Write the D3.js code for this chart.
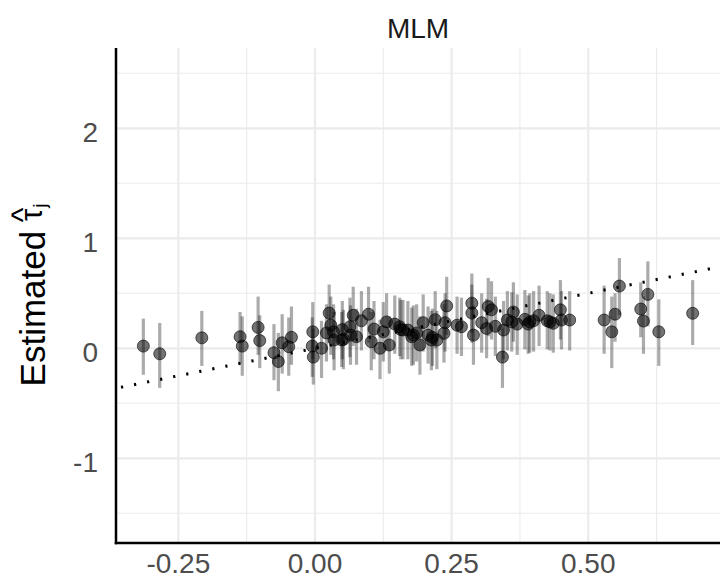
<!DOCTYPE html>
<html>
<head>
<meta charset="utf-8">
<script src="https://cdn.jsdelivr.net/npm/d3@7"></script>
<style>
  html, body { margin: 0; padding: 0; background: #fff; }
  svg { display: block; font-family: "Liberation Sans", Arial, sans-serif; }
</style>
</head>
<body>
<svg id="chart" width="720" height="579"></svg>
<script>
// ---- data ----
const panelTitle = "MLM";
const xTicks = [-0.25, 0.00, 0.25, 0.50];
const xTickLabels = ["-0.25", "0.00", "0.25", "0.50"];
const xMinor = [-0.125, 0.125, 0.375, 0.625];
const yTicks = [-1, 0, 1, 2];
const yTickLabels = ["-1", "0", "1", "2"];
const yMinor = [-1.5, -0.5, 0.5, 1.5, 2.5];

// true effect (x), estimated effect (y), interval lower / upper
const trueTau = [-0.314,-0.284,-0.207,-0.137,-0.133,-0.104,-0.101,-0.075,-0.067,-0.060,-0.048,-0.043,
  -0.004,-0.005,-0.003,0.012,0.026,0.029,0.021,0.034,0.035,0.049,0.052,0.064,0.070,0.065,0.076,0.098,
  0.108,0.103,0.119,0.125,0.131,0.136,0.146,0.155,0.161,0.170,0.177,0.186,0.192,0.198,0.207,0.213,
  0.220,0.223,0.238,0.241,0.236,0.268,0.287,0.287,0.290,0.305,0.314,0.317,0.323,0.343,0.345,0.352,
  0.363,0.360,0.384,0.393,0.410,0.425,0.436,0.449,0.451,0.466,0.529,0.549,0.543,0.557,0.596,0.601,
  0.609,0.629,0.691,0.390,0.400,0.370,0.157,0.180,0.050,0.085,0.215,0.260,0.330,0.430];
const estTau = [0.020,-0.050,0.095,0.105,0.020,0.190,0.070,-0.040,-0.120,0.050,0.015,0.100,
  0.150,0.020,-0.080,0.000,0.320,0.210,0.140,0.150,0.075,0.075,0.080,0.196,0.300,0.120,0.105,0.310,
  0.175,0.060,0.000,0.150,0.240,0.030,0.220,0.196,0.166,0.166,0.105,0.140,0.030,0.233,0.120,0.075,
  0.260,0.075,0.233,0.385,0.136,0.196,0.410,0.320,0.120,0.233,0.180,0.380,0.350,-0.080,0.166,0.257,
  0.330,0.240,0.263,0.240,0.300,0.250,0.227,0.350,0.257,0.257,0.257,0.310,0.150,0.566,0.357,0.248,
  0.490,0.150,0.318,0.220,0.250,0.220,0.170,0.120,0.170,0.250,0.100,0.210,0.200,0.240];
const lowerTau = [-0.24,-0.36,-0.16,-0.14,-0.25,-0.06,-0.18,-0.29,-0.39,-0.23,-0.25,-0.15,
  -0.10,-0.26,-0.33,-0.27,0.05,-0.06,-0.12,-0.10,-0.20,-0.17,-0.19,-0.08,0.02,-0.15,-0.15,0.05,
  -0.10,-0.20,-0.28,-0.12,-0.02,-0.23,-0.05,-0.07,-0.10,-0.10,-0.16,-0.12,-0.24,-0.03,-0.14,-0.20,
  0.00,-0.19,-0.03,0.12,-0.13,-0.07,0.14,0.05,-0.15,-0.04,-0.09,0.11,0.08,-0.36,-0.10,-0.02,
  0.06,-0.03,-0.01,-0.04,0.02,-0.01,-0.04,0.08,-0.01,-0.02,-0.05,0.06,-0.18,0.30,0.10,-0.05,
  0.20,-0.16,0.03,-0.05,-0.03,-0.06,-0.10,-0.15,-0.10,-0.02,-0.16,-0.05,-0.07,-0.02];
const upperTau = [0.27,0.23,0.34,0.33,0.29,0.47,0.30,0.22,0.14,0.31,0.28,0.38,
  0.42,0.28,0.18,0.25,0.58,0.47,0.40,0.40,0.33,0.33,0.35,0.46,0.56,0.39,0.36,0.56,
  0.43,0.33,0.26,0.42,0.50,0.29,0.48,0.46,0.44,0.43,0.37,0.40,0.29,0.49,0.38,0.34,
  0.52,0.34,0.50,0.65,0.40,0.46,0.68,0.58,0.39,0.50,0.45,0.64,0.61,0.18,0.43,0.52,
  0.60,0.51,0.53,0.50,0.57,0.52,0.49,0.62,0.52,0.52,0.57,0.50,0.47,0.82,0.60,0.47,
  0.79,0.445,0.62,0.48,0.52,0.49,0.44,0.39,0.43,0.52,0.36,0.47,0.47,0.50];

// ---- layout ----
const pL = 116, pR = 720, pT = 48, pB = 543;
const svg = d3.select("#chart");

const x = d3.scaleLinear().domain([-0.364, 0.741]).range([pL, pR]);
const y = d3.scaleLinear().domain([-1.77, 2.73]).range([pB, pT]);

const grid = svg.append("g");
grid.selectAll(".xmin").data(xMinor).join("line")
  .attr("x1", d => x(d)).attr("x2", d => x(d)).attr("y1", pT).attr("y2", pB)
  .attr("stroke", "#ebebeb").attr("stroke-width", 1.1);
grid.selectAll(".ymin").data(yMinor).join("line")
  .attr("x1", pL).attr("x2", pR).attr("y1", d => y(d)).attr("y2", d => y(d))
  .attr("stroke", "#ebebeb").attr("stroke-width", 1.1);
grid.selectAll(".xmaj").data(xTicks).join("line")
  .attr("x1", d => x(d)).attr("x2", d => x(d)).attr("y1", pT).attr("y2", pB)
  .attr("stroke", "#ebebeb").attr("stroke-width", 2.2);
grid.selectAll(".ymaj").data(yTicks).join("line")
  .attr("x1", pL).attr("x2", pR).attr("y1", d => y(d)).attr("y2", d => y(d))
  .attr("stroke", "#ebebeb").attr("stroke-width", 2.2);

// 45-degree reference line (y = x)
svg.append("clipPath").attr("id", "clp").append("rect")
  .attr("x", pL).attr("y", pT).attr("width", pR - pL).attr("height", pB - pT);
const refStart = x.invert(pL + 5), refEnd = x.domain()[1];
svg.append("line")
  .attr("clip-path", "url(#clp)")
  .attr("x1", x(refStart)).attr("y1", y(refStart))
  .attr("x2", x(refEnd)).attr("y2", y(refEnd))
  .attr("stroke", "#000").attr("stroke-width", 3)
  .attr("stroke-dasharray", "2.2 11.1");

const pts = trueTau.map((d, i) => ({ x: d, y: estTau[i], lo: lowerTau[i], hi: upperTau[i] }));

// error bars
svg.append("g").selectAll("line").data(pts).join("line")
  .attr("x1", d => x(d.x)).attr("x2", d => x(d.x))
  .attr("y1", d => y(d.lo)).attr("y2", d => y(d.hi))
  .attr("stroke", "#000").attr("stroke-opacity", 0.33).attr("stroke-width", 3.2);

// points
svg.append("g").selectAll("circle").data(pts).join("circle")
  .attr("cx", d => x(d.x)).attr("cy", d => y(d.y)).attr("r", 6)
  .attr("fill", "#000").attr("fill-opacity", 0.55)
  .attr("stroke", "#000").attr("stroke-opacity", 0.6).attr("stroke-width", 1);

// axis lines
svg.append("line").attr("x1", pL).attr("x2", pL).attr("y1", pT).attr("y2", pB + 1.25)
  .attr("stroke", "#000").attr("stroke-width", 2.5);
svg.append("line").attr("x1", pL - 1.25).attr("x2", pR).attr("y1", pB).attr("y2", pB)
  .attr("stroke", "#000").attr("stroke-width", 2.5);

// tick labels
svg.append("g").selectAll("text").data(xTicks).join("text")
  .attr("x", d => x(d)).attr("y", 573)
  .attr("text-anchor", "middle").attr("font-size", 28).attr("fill", "#4d4d4d")
  .text((d, i) => xTickLabels[i]);
svg.append("g").selectAll("text").data(yTicks).join("text")
  .attr("x", 98).attr("y", d => y(d) + 14)
  .attr("text-anchor", "end").attr("font-size", 28).attr("fill", "#4d4d4d")
  .text((d, i) => yTickLabels[i]);

// panel title
svg.append("text").attr("x", (pL + pR) / 2).attr("y", 38)
  .attr("text-anchor", "middle").attr("font-size", 28).attr("fill", "#1a1a1a")
  .text(panelTitle);

// y-axis title: Estimated tau-hat_j
const yt = svg.append("g").attr("transform", `translate(45, ${(pT + pB) / 2}) rotate(-90)`);
const base = yt.append("text").attr("font-size", 35).attr("fill", "#000").text("Estimated\u00a0");
const wBase = base.node().getComputedTextLength();
const tau = yt.append("text").attr("font-size", 31).attr("fill", "#000").attr("y", -3).text("τ");
const wTau = tau.node().getComputedTextLength();
const hat = yt.append("text").attr("font-size", 32).attr("fill", "#000").attr("text-anchor", "middle").text("^");
const jj = yt.append("text").attr("font-size", 19).attr("fill", "#000").attr("y", 1).text("j");
const wJ = jj.node().getComputedTextLength();
const total = wBase + wTau + wJ;
const x0 = -total / 2;
base.attr("x", x0);
tau.attr("x", x0 + wBase);
hat.attr("x", x0 + wBase + wTau / 2).attr("y", -12);
jj.attr("x", x0 + wBase + wTau + 1);
</script>
</body>
</html>
